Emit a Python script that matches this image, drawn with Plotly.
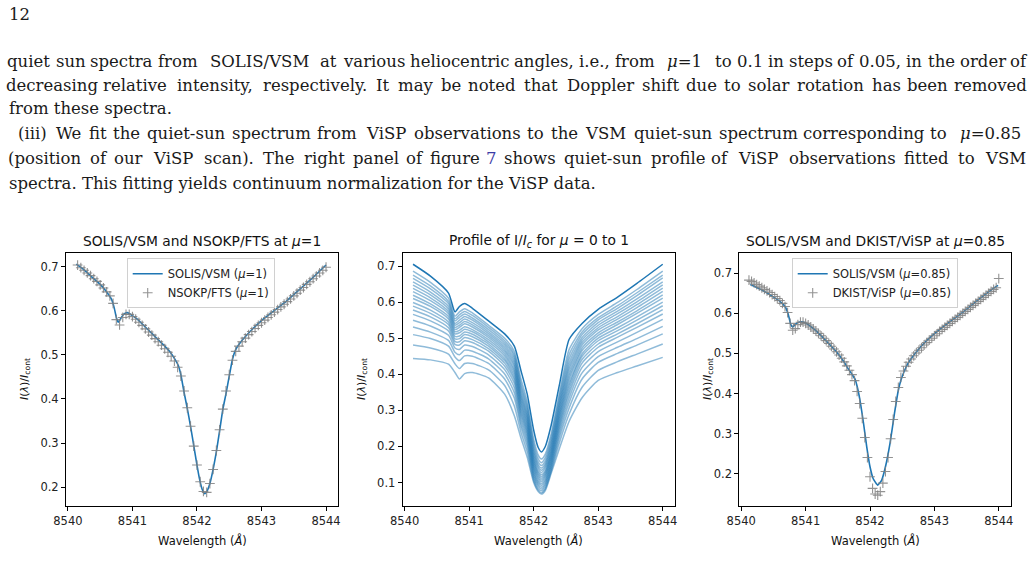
import plotly.graph_objects as go

# ---------------- page text (justified lines are set word by word) ----------------
page_number = "12"
line1_words = ["quiet", "sun", "spectra", "from", "SOLIS/VSM", "at", "various", "heliocentric",
               "angles,", "i.e.,", "from", "<i>μ</i>=1", "to", "0.1", "in", "steps", "of", "0.05,",
               "in", "the", "order", "of"]
line1_centers = [28.7, 70.7, 121.9, 178.3, 259.2, 328.8, 374.1, 460.2,
                 544.3, 594.2, 635.1, 684.7, 723.0, 749.8, 776.1, 811.3, 846.2, 879.9,
                 913.9, 941.3, 983.0, 1018.9]
line2_words = ["decreasing", "relative", "intensity,", "respectively.", "It", "may", "be", "noted",
               "that", "Doppler", "shift", "due", "to", "solar", "rotation", "has", "been", "removed"]
line2_centers = [51.6, 135.2, 214.7, 315.4, 383.0, 415.6, 450.7, 491.5,
                 540.7, 600.1, 660.5, 701.7, 732.6, 768.6, 830.5, 886.3, 927.2, 990.4]
line3_text = "from these spectra."
line4_words = ["(iii)", "We", "fit", "the", "quiet-sun", "spectrum", "from", "ViSP", "observations",
               "to", "the", "VSM", "quiet-sun", "spectrum", "corresponding", "to", "<i>μ</i>=0.85"]
line4_centers = [32.0, 68.3, 97.9, 126.8, 186.3, 271.6, 337.2, 385.5, 467.4,
                 535.7, 564.1, 605.6, 673.3, 758.7, 864.2, 938.8, 990.1]
line5_words = ["(position", "of", "our", "ViSP", "scan).", "The", "right", "panel", "of", "figure",
               "<span style='color:#3b3ba6'>7</span>", "shows", "quiet-sun", "profile", "of", "ViSP",
               "observations", "fitted", "to", "VSM"]
line5_centers = [45.0, 98.7, 128.7, 173.2, 228.7, 278.8, 324.5, 376.3, 415.1, 455.0,
                 491.9, 530.0, 603.0, 677.6, 720.3, 758.4, 842.3, 926.9, 966.5, 1005.0]
line6_text = "spectra. This fitting yields continuum normalization for the ViSP data."

# ---------------- panel 1: SOLIS/VSM vs NSOKP/FTS at mu=1 ----------------
wl_vsm_mu1 = [8540.13, 8540.25, 8540.40, 8540.50, 8540.60, 8540.68, 8540.72, 8540.75, 8540.78,
              8540.82, 8540.87, 8540.92, 8541.00, 8541.10, 8541.20, 8541.30, 8541.40, 8541.50,
              8541.58, 8541.65, 8541.71, 8541.75, 8541.80, 8541.85, 8541.90, 8541.95, 8542.00,
              8542.04, 8542.08, 8542.12, 8542.16, 8542.20, 8542.25, 8542.30, 8542.35, 8542.40,
              8542.45, 8542.50, 8542.55, 8542.60, 8542.70, 8542.85, 8543.00, 8543.20, 8543.40,
              8543.60, 8543.80, 8544.00]
int_vsm_mu1 = [0.706, 0.693, 0.673, 0.660, 0.643, 0.625, 0.605, 0.585, 0.574,
               0.583, 0.593, 0.596, 0.589, 0.578, 0.563, 0.549, 0.534, 0.520,
               0.507, 0.492, 0.476, 0.455, 0.415, 0.378, 0.338, 0.294, 0.250,
               0.218, 0.195, 0.185, 0.192, 0.208, 0.240, 0.280, 0.327, 0.376,
               0.412, 0.452, 0.490, 0.512, 0.533, 0.557, 0.578, 0.601, 0.624,
               0.650, 0.676, 0.704]

wl_fts = [8540.15, 8540.20, 8540.25, 8540.30, 8540.35, 8540.40, 8540.45, 8540.50, 8540.55, 8540.60,
          8540.65, 8540.70, 8540.75, 8540.80, 8540.85, 8540.90, 8540.95, 8541.00, 8541.05, 8541.10,
          8541.15, 8541.20, 8541.25, 8541.30, 8541.35, 8541.40, 8541.45, 8541.50, 8541.55, 8541.60,
          8541.65, 8541.70, 8541.75, 8541.80, 8541.85, 8541.90, 8541.95, 8542.00, 8542.05, 8542.10,
          8542.15, 8542.20, 8542.25, 8542.30, 8542.35, 8542.40, 8542.45, 8542.50, 8542.55, 8542.60,
          8542.65, 8542.70, 8542.75, 8542.80, 8542.85, 8542.90, 8542.95, 8543.00, 8543.05, 8543.10,
          8543.15, 8543.20, 8543.25, 8543.30, 8543.35, 8543.40, 8543.45, 8543.50, 8543.55, 8543.60,
          8543.65, 8543.70, 8543.75, 8543.80, 8543.85, 8543.90, 8543.95, 8544.00]
int_fts = [0.704, 0.698, 0.692, 0.686, 0.680, 0.673, 0.667, 0.659, 0.652, 0.643,
           0.634, 0.617, 0.580, 0.568, 0.585, 0.592, 0.592, 0.587, 0.581, 0.574,
           0.567, 0.559, 0.552, 0.545, 0.537, 0.530, 0.522, 0.514, 0.506, 0.497,
           0.486, 0.472, 0.452, 0.418, 0.380, 0.338, 0.293, 0.250, 0.212, 0.190,
           0.188, 0.208, 0.240, 0.283, 0.330, 0.377, 0.418, 0.455, 0.488, 0.508,
           0.520, 0.530, 0.538, 0.546, 0.553, 0.560, 0.567, 0.573, 0.579, 0.585,
           0.591, 0.597, 0.603, 0.609, 0.615, 0.621, 0.627, 0.634, 0.640, 0.647,
           0.653, 0.660, 0.666, 0.673, 0.679, 0.686, 0.692, 0.699]

# ---------------- panel 2: profiles for mu = 1 ... 0.1 ----------------
wl_mu_grid = [8540.13, 8540.40, 8540.68, 8540.78, 8540.85, 8540.93, 8541.05, 8541.30, 8541.55, 8541.70,
              8541.80, 8541.90, 8542.00, 8542.07, 8542.12, 8542.18, 8542.27, 8542.40, 8542.55, 8542.75,
              8543.00, 8543.30, 8543.60, 8544.00]
mu_values = [1.00, 0.95, 0.90, 0.85, 0.80, 0.75, 0.70, 0.65, 0.60, 0.55,
             0.50, 0.45, 0.40, 0.35, 0.30, 0.25, 0.20, 0.15, 0.10]
prof_mu100 = [0.705, 0.672, 0.625, 0.573, 0.588, 0.596, 0.583, 0.548, 0.512, 0.478, 0.412, 0.345, 0.245, 0.197, 0.185, 0.200, 0.258, 0.372, 0.497, 0.541, 0.580, 0.614, 0.652, 0.705]
prof_mu095 = [0.686, 0.655, 0.611, 0.561, 0.573, 0.582, 0.570, 0.536, 0.500, 0.464, 0.389, 0.324, 0.220, 0.176, 0.165, 0.179, 0.235, 0.350, 0.469, 0.526, 0.566, 0.599, 0.635, 0.686]
prof_mu090 = [0.675, 0.645, 0.602, 0.554, 0.565, 0.574, 0.563, 0.530, 0.493, 0.456, 0.377, 0.313, 0.208, 0.166, 0.155, 0.169, 0.224, 0.339, 0.455, 0.517, 0.557, 0.590, 0.626, 0.675]
prof_mu085 = [0.666, 0.637, 0.596, 0.548, 0.558, 0.567, 0.556, 0.524, 0.487, 0.449, 0.368, 0.304, 0.198, 0.157, 0.147, 0.160, 0.215, 0.330, 0.443, 0.510, 0.551, 0.583, 0.618, 0.667]
prof_mu080 = [0.656, 0.628, 0.588, 0.541, 0.550, 0.560, 0.550, 0.518, 0.481, 0.442, 0.359, 0.295, 0.189, 0.150, 0.140, 0.153, 0.207, 0.321, 0.432, 0.502, 0.543, 0.575, 0.609, 0.656]
prof_mu075 = [0.647, 0.620, 0.581, 0.536, 0.543, 0.553, 0.543, 0.513, 0.475, 0.435, 0.350, 0.287, 0.182, 0.144, 0.134, 0.147, 0.200, 0.314, 0.422, 0.495, 0.536, 0.568, 0.601, 0.648]
prof_mu070 = [0.638, 0.612, 0.574, 0.530, 0.536, 0.546, 0.537, 0.507, 0.469, 0.428, 0.342, 0.280, 0.174, 0.138, 0.128, 0.141, 0.193, 0.306, 0.413, 0.488, 0.529, 0.560, 0.593, 0.639]
prof_mu065 = [0.629, 0.604, 0.568, 0.524, 0.530, 0.540, 0.531, 0.502, 0.463, 0.422, 0.335, 0.273, 0.167, 0.131, 0.122, 0.134, 0.186, 0.299, 0.403, 0.481, 0.523, 0.553, 0.585, 0.630]
prof_mu060 = [0.619, 0.595, 0.560, 0.518, 0.522, 0.532, 0.524, 0.496, 0.457, 0.414, 0.327, 0.265, 0.161, 0.126, 0.117, 0.129, 0.181, 0.291, 0.394, 0.473, 0.515, 0.545, 0.576, 0.620]
prof_mu055 = [0.610, 0.588, 0.553, 0.512, 0.515, 0.525, 0.518, 0.490, 0.451, 0.408, 0.320, 0.259, 0.155, 0.121, 0.112, 0.124, 0.175, 0.285, 0.385, 0.466, 0.508, 0.538, 0.569, 0.611]
prof_mu050 = [0.599, 0.578, 0.545, 0.505, 0.506, 0.517, 0.511, 0.484, 0.444, 0.400, 0.312, 0.251, 0.148, 0.116, 0.107, 0.119, 0.169, 0.277, 0.375, 0.457, 0.500, 0.529, 0.559, 0.600]
prof_mu045 = [0.589, 0.569, 0.538, 0.498, 0.499, 0.510, 0.504, 0.478, 0.438, 0.392, 0.304, 0.244, 0.142, 0.111, 0.102, 0.114, 0.164, 0.270, 0.366, 0.450, 0.493, 0.521, 0.550, 0.590]
prof_mu040 = [0.578, 0.559, 0.529, 0.491, 0.490, 0.502, 0.496, 0.471, 0.431, 0.384, 0.296, 0.237, 0.136, 0.105, 0.097, 0.108, 0.158, 0.262, 0.356, 0.441, 0.484, 0.512, 0.540, 0.579]
prof_mu035 = [0.566, 0.548, 0.520, 0.483, 0.481, 0.493, 0.488, 0.464, 0.423, 0.375, 0.288, 0.229, 0.130, 0.100, 0.092, 0.103, 0.152, 0.254, 0.346, 0.431, 0.475, 0.503, 0.530, 0.567]
prof_mu030 = [0.550, 0.534, 0.508, 0.473, 0.469, 0.481, 0.477, 0.454, 0.413, 0.363, 0.278, 0.220, 0.123, 0.095, 0.087, 0.098, 0.147, 0.245, 0.334, 0.419, 0.463, 0.490, 0.516, 0.552]
prof_mu025 = [0.531, 0.517, 0.494, 0.461, 0.454, 0.467, 0.464, 0.443, 0.401, 0.349, 0.267, 0.210, 0.117, 0.090, 0.082, 0.093, 0.141, 0.235, 0.322, 0.404, 0.449, 0.475, 0.499, 0.533]
prof_mu020 = [0.510, 0.499, 0.478, 0.448, 0.438, 0.451, 0.450, 0.430, 0.387, 0.334, 0.256, 0.199, 0.111, 0.084, 0.077, 0.087, 0.135, 0.224, 0.307, 0.387, 0.433, 0.458, 0.481, 0.512]
prof_mu015 = [0.481, 0.473, 0.456, 0.429, 0.416, 0.430, 0.430, 0.412, 0.369, 0.312, 0.241, 0.185, 0.105, 0.079, 0.072, 0.082, 0.130, 0.211, 0.290, 0.364, 0.411, 0.435, 0.456, 0.484]
prof_mu010 = [0.444, 0.440, 0.428, 0.405, 0.387, 0.402, 0.405, 0.390, 0.345, 0.285, 0.225, 0.170, 0.100, 0.075, 0.068, 0.078, 0.125, 0.195, 0.270, 0.335, 0.383, 0.405, 0.423, 0.447]
mu_profiles = [prof_mu100, prof_mu095, prof_mu090, prof_mu085, prof_mu080, prof_mu075, prof_mu070,
               prof_mu065, prof_mu060, prof_mu055, prof_mu050, prof_mu045, prof_mu040, prof_mu035,
               prof_mu030, prof_mu025, prof_mu020, prof_mu015, prof_mu010]

# ---------------- panel 3: SOLIS/VSM vs DKIST/ViSP at mu=0.85 ----------------
wl_vsm_mu085 = [8540.14, 8540.30, 8540.50, 8540.60, 8540.68, 8540.73, 8540.77, 8540.80, 8540.85,
                8540.92, 8541.00, 8541.15, 8541.35, 8541.50, 8541.60, 8541.66, 8541.72, 8541.77,
                8541.80, 8541.85, 8541.90, 8541.95, 8542.00, 8542.05, 8542.12, 8542.18, 8542.24,
                8542.31, 8542.38, 8542.44, 8542.48, 8542.53, 8542.59, 8542.70, 8542.90, 8543.10,
                8543.42, 8543.70, 8543.94, 8543.99]
int_vsm_mu085 = [0.672, 0.660, 0.641, 0.630, 0.617, 0.598, 0.572, 0.566, 0.574,
                 0.579, 0.576, 0.558, 0.526, 0.500, 0.478, 0.462, 0.448, 0.435,
                 0.418, 0.378, 0.325, 0.266, 0.217, 0.187, 0.171, 0.183, 0.217,
                 0.275, 0.350, 0.408, 0.433, 0.455, 0.475, 0.500, 0.535, 0.562,
                 0.600, 0.636, 0.665, 0.670]

wl_visp = [8540.12, 8540.16, 8540.20, 8540.24, 8540.28, 8540.32, 8540.36, 8540.40, 8540.44, 8540.48,
           8540.52, 8540.56, 8540.60, 8540.64, 8540.68, 8540.72, 8540.76, 8540.80, 8540.84, 8540.88,
           8540.92, 8540.96, 8541.00, 8541.04, 8541.08, 8541.12, 8541.16, 8541.20, 8541.24, 8541.28,
           8541.32, 8541.36, 8541.40, 8541.44, 8541.48, 8541.52, 8541.56, 8541.60, 8541.64, 8541.68,
           8541.72, 8541.76, 8541.80, 8541.84, 8541.88, 8541.92, 8541.96, 8542.00, 8542.04, 8542.08,
           8542.12, 8542.16, 8542.20, 8542.24, 8542.28, 8542.32, 8542.36, 8542.40, 8542.44, 8542.48,
           8542.52, 8542.56, 8542.60, 8542.64, 8542.68, 8542.72, 8542.76, 8542.80, 8542.84, 8542.88,
           8542.92, 8542.96, 8543.00, 8543.04, 8543.08, 8543.12, 8543.16, 8543.20, 8543.24, 8543.28,
           8543.32, 8543.36, 8543.40, 8543.44, 8543.48, 8543.52, 8543.56, 8543.60, 8543.64, 8543.68,
           8543.72, 8543.76, 8543.80, 8543.84, 8543.88, 8543.92, 8543.96, 8544.00]
int_visp = [0.683, 0.680, 0.676, 0.672, 0.668, 0.664, 0.660, 0.656, 0.652, 0.647,
            0.642, 0.637, 0.632, 0.625, 0.617, 0.602, 0.575, 0.558, 0.562, 0.572,
            0.578, 0.578, 0.575, 0.571, 0.566, 0.561, 0.556, 0.550, 0.544, 0.538,
            0.532, 0.525, 0.518, 0.511, 0.504, 0.496, 0.488, 0.479, 0.469, 0.458,
            0.447, 0.432, 0.405, 0.375, 0.338, 0.290, 0.240, 0.192, 0.163, 0.149,
            0.146, 0.155, 0.176, 0.205, 0.240, 0.287, 0.335, 0.380, 0.415, 0.440,
            0.456, 0.468, 0.478, 0.486, 0.494, 0.501, 0.508, 0.514, 0.521, 0.527,
            0.533, 0.538, 0.544, 0.549, 0.555, 0.560, 0.565, 0.570, 0.575, 0.580,
            0.585, 0.590, 0.595, 0.600, 0.605, 0.610, 0.615, 0.620, 0.625, 0.630,
            0.635, 0.640, 0.645, 0.650, 0.655, 0.660, 0.664, 0.687]

# ---------------- labels ----------------
titles = ["SOLIS/VSM and NSOKP/FTS at <i>μ</i>=1",
          "Profile of I/<i>I<sub>c</sub></i> for <i>μ</i> = 0 to 1",
          "SOLIS/VSM and DKIST/ViSP at <i>μ</i>=0.85"]
xlabel = "Wavelength (<i>Å</i>)"
ylabel = "<i>I</i>(<i>λ</i>)/<i>I</i><sub>cont</sub>"
x_ticks = [8540, 8541, 8542, 8543, 8544]
y_ticks_p1 = [0.2, 0.3, 0.4, 0.5, 0.6, 0.7]
y_ticks_p2 = [0.1, 0.2, 0.3, 0.4, 0.5, 0.6, 0.7]
y_ticks_p3 = [0.2, 0.3, 0.4, 0.5, 0.6, 0.7]

# ---------------- figure ----------------
W, H = 1035, 579
BLUE = "#1f77b4"
GRAY = "rgba(128,128,128,0.85)"
SANS = "DejaVu Sans"
SERIF = "DejaVu Serif"
FS = 11.5

fig = go.Figure()

fig.add_trace(go.Scatter(x=wl_vsm_mu1, y=int_vsm_mu1, mode="lines",
                         line=dict(color=BLUE, width=1.6, shape="spline", smoothing=0.4),
                         name="SOLIS/VSM (<i>μ</i>=1)", xaxis="x", yaxis="y", legend="legend"))
fig.add_trace(go.Scatter(x=wl_fts, y=int_fts, mode="markers",
                         marker=dict(symbol="cross-thin", size=7, line=dict(color=GRAY, width=1.1)),
                         name="NSOKP/FTS (<i>μ</i>=1)", xaxis="x", yaxis="y", legend="legend"))

for mu, prof in reversed(list(zip(mu_values, mu_profiles))):
    col = BLUE if mu == 1.0 else "rgba(31,119,180,0.5)"
    fig.add_trace(go.Scatter(x=wl_mu_grid, y=prof, mode="lines",
                             line=dict(color=col, width=1.5, shape="spline", smoothing=0.6),
                             showlegend=False, xaxis="x2", yaxis="y2"))

fig.add_trace(go.Scatter(x=wl_vsm_mu085, y=int_vsm_mu085, mode="lines",
                         line=dict(color=BLUE, width=1.6, shape="spline", smoothing=0.4),
                         name="SOLIS/VSM (<i>μ</i>=0.85)", xaxis="x3", yaxis="y3", legend="legend2"))
fig.add_trace(go.Scatter(x=wl_visp, y=int_visp, mode="markers",
                         marker=dict(symbol="cross-thin", size=7, line=dict(color=GRAY, width=1.1)),
                         name="DKIST/ViSP (<i>μ</i>=0.85)", xaxis="x3", yaxis="y3", legend="legend2"))

def px_x(p):
    return p / W

def px_y(p):
    return 1 - p / H

axis_common = dict(showline=True, linecolor="black", linewidth=1, mirror=True,
                   ticks="outside", ticklen=4, tickwidth=1, tickcolor="black",
                   showgrid=False, zeroline=False, automargin=False,
                   tickfont=dict(family=SANS, size=FS, color="#222"))

panels = [(66, 338.3, [0.157, 0.732], y_ticks_p1),
          (402.7, 675, [0.035, 0.737], y_ticks_p2),
          (739.3, 1011, [0.119, 0.7515], y_ticks_p3)]
top_px, bot_px = 252.7, 506
layout = dict(width=W, height=H, margin=dict(l=0, r=0, t=0, b=0, pad=0, autoexpand=False),
              paper_bgcolor="white", plot_bgcolor="white", showlegend=True)
for i, (x0, x1, yr, yt) in enumerate(panels):
    sfx = "" if i == 0 else str(i + 1)
    layout["xaxis" + sfx] = dict(domain=[px_x(x0), px_x(x1)], range=[8539.97, 8544.19],
                                 tickvals=x_ticks, tickformat="d", anchor="y" + sfx, **axis_common)
    layout["yaxis" + sfx] = dict(domain=[px_y(bot_px), px_y(top_px)], range=yr,
                                 tickvals=yt, tickformat=".1f", anchor="x" + sfx, **axis_common)

legend_common = dict(xref="paper", yref="paper", xanchor="left", yanchor="top",
                     bgcolor="rgba(255,255,255,0.8)", bordercolor="#d0d0d0", borderwidth=1,
                     font=dict(family=SANS, size=FS, color="#222"), tracegroupgap=0,
                     itemwidth=30)
layout["legend"] = dict(x=px_x(126.7), y=px_y(258.3), **legend_common)
layout["legend2"] = dict(x=px_x(791.7), y=px_y(258.3), **legend_common)

fig.update_layout(**layout)

ann = []
for i, (x0, x1, yr, yt) in enumerate(panels):
    cx = (x0 + x1) / 2
    ann.append(dict(text=titles[i], x=px_x(cx), y=px_y(241), xref="paper", yref="paper",
                    xanchor="center", yanchor="middle", showarrow=False,
                    font=dict(family=SANS, size=13.8, color="#111")))
    ann.append(dict(text=xlabel, x=px_x(cx), y=px_y(540), xref="paper", yref="paper",
                    xanchor="center", yanchor="middle", showarrow=False,
                    font=dict(family=SANS, size=FS, color="#111")))
for xx in [25, 362, 708]:
    ann.append(dict(text=ylabel, x=px_x(xx), y=px_y(379), xref="paper", yref="paper",
                    xanchor="center", yanchor="middle", showarrow=False, textangle=-90,
                    font=dict(family=SANS, size=11, color="#111")))

TXT = dict(family=SERIF, size=16.5, color="#1a1a1a")
def text_ann(t, xp, yp, anchor):
    return dict(text=t, x=px_x(xp), y=px_y(yp), xref="paper", yref="paper",
                xanchor=anchor, yanchor="middle", showarrow=False, font=TXT)

ann.append(text_ann(page_number, 7, 14, "left"))
for words, centers, ypos in [(line1_words, line1_centers, 61), (line2_words, line2_centers, 85),
                             (line4_words, line4_centers, 134), (line5_words, line5_centers, 158)]:
    for w, c in zip(words, centers):
        ann.append(text_ann(w, c, ypos, "center"))
ann.append(text_ann(line3_text, 7, 109, "left"))
ann.append(text_ann(line6_text, 7, 183, "left"))

fig.update_layout(annotations=ann)
fig.write_html("out.html")
